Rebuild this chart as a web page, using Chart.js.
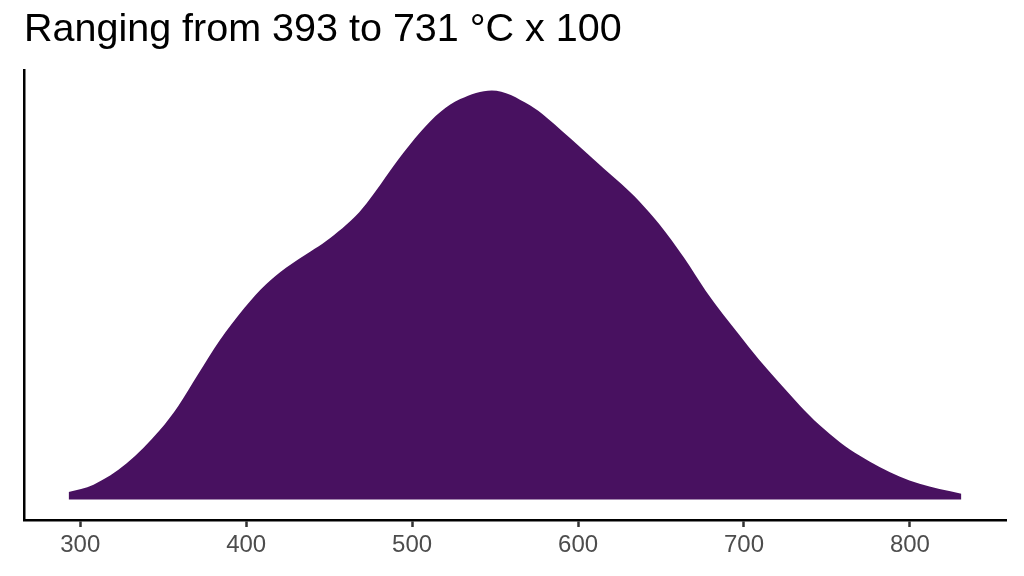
<!DOCTYPE html>
<html>
<head>
<meta charset="utf-8">
<script src="https://cdn.jsdelivr.net/npm/chart.js@4.4.1/dist/chart.umd.min.js"></script>
<style>
  html, body { margin: 0; padding: 0; background: #ffffff; }
  #wrap { width: 1024px; height: 576px; position: relative; }
</style>
</head>
<body>
<div id="wrap"><canvas id="c" width="1024" height="576"></canvas></div>
<script>
// Temperature values (°C x 100) at which density was read
const temps = [293, 308, 328, 348, 359, 371, 384, 399, 412, 424, 439, 448, 468, 477, 492, 505, 517, 529, 548, 571, 591, 611, 631, 637, 649, 664, 677, 697, 709, 721, 733.5, 745.5, 757.6, 769.6, 781.7, 793.7, 805.8, 817.8, 831];
// Estimated density values (x 1e-5)
const density = [7.7, 15, 36.5, 70, 94, 126, 160, 193, 216.7, 233.3, 250, 260, 289, 308, 343, 370, 390, 403, 411.7, 396.7, 370, 340, 310, 300, 277, 243, 210, 166, 141, 118, 95, 75, 58, 44.3, 32.8, 23.2, 15.9, 10.5, 5.9];
const xTicks = [300, 400, 500, 600, 700, 800];
const titleText = 'Ranging from 393 to 731 °C x 100';

const pts = temps.map((t, i) => ({ x: t, y: density[i] / 100000 }));
const xMin = Math.min(...temps), xMax = Math.max(...temps);
const yMax = Math.max(...density) / 100000;
const xPad = (xMax - xMin) * 0.05;

new Chart(document.getElementById('c'), {
  type: 'line',
  data: {
    datasets: [{
      data: pts,
      fill: 'origin',
      backgroundColor: '#481160',
      borderColor: '#481160',
      borderWidth: 0,
      pointRadius: 0,
      cubicInterpolationMode: 'monotone'
    }]
  },
  options: {
    responsive: false,
    animation: false,
    events: [],
    layout: { padding: { left: 24, right: 18, top: 0, bottom: 0 } },
    plugins: {
      legend: { display: false },
      tooltip: { enabled: false },
      title: {
        display: true,
        text: titleText,
        align: 'start',
        color: '#000000',
        font: { family: 'Liberation Sans, Arial, sans-serif', size: 39.5, weight: 'normal', lineHeight: 1.2 },
        padding: { top: 6, bottom: 16.6 }
      }
    },
    scales: {
      x: {
        type: 'linear',
        min: xMin - xPad,
        max: xMax + xPad,
        afterBuildTicks: s => { s.ticks = xTicks.map(v => ({ value: v })); },
        border: { display: true, color: '#000000', width: 2.5 },
        grid: { display: true, drawOnChartArea: false, drawTicks: true, tickLength: 7, tickWidth: 2.5, tickColor: '#333333' },
        ticks: { color: '#4D4D4D', padding: 4, maxRotation: 0, font: { family: 'Liberation Sans, Arial, sans-serif', size: 24 } },
        afterFit: s => { s.height = 56; }
      },
      y: {
        type: 'linear',
        min: -0.05 * yMax,
        max: 1.05 * yMax,
        border: { display: true, color: '#000000', width: 2.5 },
        grid: { display: false, drawTicks: false },
        ticks: { display: false },
        afterFit: s => { s.width = 0; }
      }
    }
  }
});
</script>
</body>
</html>
